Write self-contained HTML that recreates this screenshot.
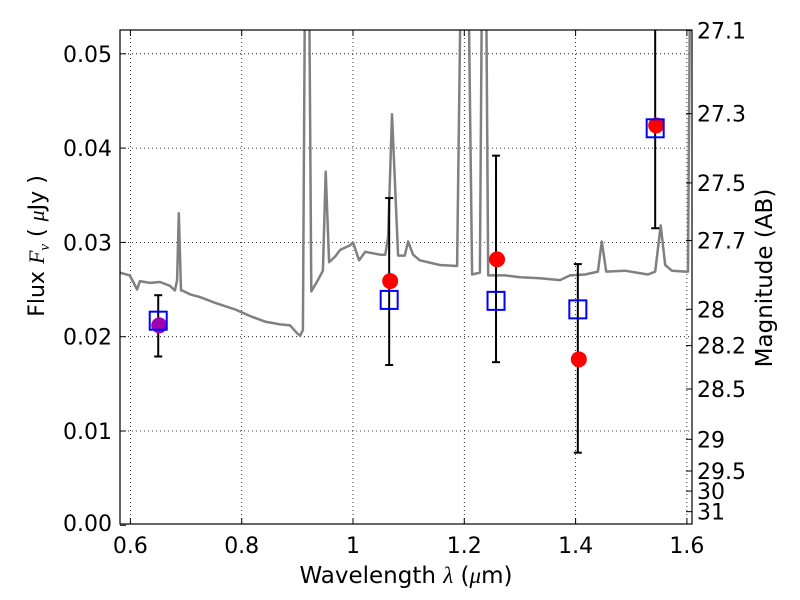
<!DOCTYPE html>
<html><head><meta charset="utf-8"><style>
body{margin:0;background:#fff;}
svg{display:block;font-family:"DejaVu Sans","Liberation Sans",sans-serif;}
</style></head><body>
<svg id="chart" width="800" height="600" xmlns="http://www.w3.org/2000/svg">
<rect x="0" y="0" width="800" height="600" fill="#fff"/>
<g id="grid"></g>
<defs><clipPath id="plotclip"><rect x="120" y="30" width="572" height="494"/></clipPath></defs>
<g id="spec" clip-path="url(#plotclip)"></g>
<g id="marks"></g>
<rect x="120" y="30" width="572" height="494" fill="none" stroke="#000" stroke-width="1.2"/>
<g id="axes"></g>
<text x="406" y="583" font-size="23" text-anchor="middle">Wavelength  <tspan font-family="Liberation Serif" font-style="italic">λ</tspan> (<tspan font-family="Liberation Serif" font-style="italic">μ</tspan>m)</text>
<text transform="translate(44,246) rotate(-90)" font-size="22" text-anchor="middle">Flux  <tspan font-family="Liberation Serif" font-style="italic">F<tspan font-size="15" dy="5">ν</tspan></tspan><tspan dy="-5">  (  </tspan><tspan font-family="Liberation Serif" font-style="italic">μ</tspan>Jy )</text>
<text transform="translate(772,278) rotate(-90)" font-size="23" text-anchor="middle">Magnitude (AB)</text>
</svg>
<script>
const specWave=[0.581,0.599,0.612,0.617,0.635,0.653,0.671,0.680,0.684,0.687,0.691,0.693,0.707,0.725,0.752,0.788,0.815,0.842,0.869,0.887,0.899,0.905,0.910,0.914,0.917,0.921,0.925,0.937,0.946,0.951,0.957,0.968,0.977,0.995,1.000,1.011,1.022,1.049,1.058,1.063,1.070,1.081,1.093,1.099,1.108,1.120,1.156,1.187,1.194,1.198,1.203,1.207,1.214,1.228,1.232,1.235,1.239,1.243,1.273,1.300,1.336,1.372,1.390,1.417,1.440,1.447,1.455,1.489,1.530,1.543,1.553,1.561,1.573,1.597,1.602,1.606];
const specFlux=[0.0268,0.0265,0.0250,0.0259,0.0257,0.0258,0.0254,0.0249,0.0260,0.0331,0.0249,0.0249,0.0245,0.0242,0.0236,0.0229,0.0222,0.0216,0.0213,0.0212,0.0204,0.0201,0.0207,0.0600,0.0600,0.0600,0.0248,0.0260,0.0270,0.0375,0.0279,0.0285,0.0292,0.0297,0.0300,0.0281,0.0290,0.0287,0.0287,0.0306,0.0436,0.0286,0.0286,0.0301,0.0287,0.0281,0.0276,0.0275,0.0600,0.0600,0.0600,0.0600,0.0266,0.0268,0.0600,0.0600,0.0600,0.0265,0.0265,0.0263,0.0262,0.0260,0.0265,0.0266,0.0269,0.0301,0.0269,0.0270,0.0266,0.0269,0.0318,0.0276,0.0270,0.0269,0.0269,0.0600];
const bandWave=[0.650,1.065,1.257,1.404,1.543];
const obsFlux=[0.0212,0.0259,0.0282,0.0176,0.0424];
const modelFlux=[0.0217,0.0239,0.0238,0.0229,0.0421];
const errLow=[0.0179,0.0170,0.0173,0.0077,0.0315];
const errHigh=[0.0244,0.0347,0.0392,0.0277,0.0560];
const obsColors=['#a000b0','#ff0000','#ff0000','#ff0000','#ff0000'];
const xTicks=[0.6,0.8,1.0,1.2,1.4,1.6];
const xTickLabels=['0.6','0.8','1','1.2','1.4','1.6'];
const yTicks=[0,0.01,0.02,0.03,0.04,0.05];
const yTickLabels=['0.00','0.01','0.02','0.03','0.04','0.05'];
const magTicks=[27.1,27.3,27.5,27.7,28,28.2,28.5,29,29.5,30,31];
const magLabels=['27.1','27.3','27.5','27.7','28','28.2','28.5','29','29.5','30','31'];

const NS='http://www.w3.org/2000/svg';
const X=v=>353+(v-1.0)*556.5;
const Y=v=>525.3-v*9430;
const magToFlux=m=>Math.pow(10,(23.9-m)/2.5);
function mk(tag,attrs,parent){const e=document.createElementNS(NS,tag);for(const k in attrs)e.setAttribute(k,attrs[k]);parent.appendChild(e);return e;}
const grid=document.getElementById('grid'),axes=document.getElementById('axes'),spec=document.getElementById('spec'),marks=document.getElementById('marks');

xTicks.forEach((t,i)=>{
  const x=X(t);
  const g=mk('line',{x1:x,x2:x,y1:30,y2:524,stroke:'#000','stroke-width':0.8,'stroke-dasharray':'1,3'},grid);
  
  
  mk('line',{x1:x,x2:x,y1:524,y2:518,stroke:'#000'},axes);
  mk('line',{x1:x,x2:x,y1:30,y2:36,stroke:'#000'},axes);
  const tx=mk('text',{x:x,y:553,'font-size':22,'text-anchor':'middle'},axes);
  tx.textContent=xTickLabels[i];
  
  
});
yTicks.forEach((t,i)=>{
  const y=Y(t);
  if(t>0){const g=mk('line',{x1:120,x2:692,y1:y,y2:y,stroke:'#000','stroke-width':0.8,'stroke-dasharray':'1,3'},grid);
  
  }
  mk('line',{x1:120,x2:126,y1:y,y2:y,stroke:'#000'},axes);
  const tx=mk('text',{x:112,y:Math.min(y,523)+8,'font-size':22,'text-anchor':'end'},axes);
  tx.textContent=yTickLabels[i];
  
  
});
magTicks.forEach((m,i)=>{
  const y=Y(magToFlux(m));
  mk('line',{x1:692,x2:686,y1:y,y2:y,stroke:'#000'},axes);
  const tx=mk('text',{x:697,y:y+8,'font-size':22,'text-anchor':'start'},axes);
  tx.textContent=magLabels[i];
  
  
});

const pts=specWave.map((w,i)=>X(w).toFixed(1)+','+Y(specFlux[i]).toFixed(1)).join(' ');
const pl=mk('polyline',{points:pts,fill:'none',stroke:'#808080','stroke-width':2.5,'stroke-linejoin':'round'},spec);



bandWave.forEach((w,i)=>{
  const x=X(w);
  const yl=Y(errLow[i]),yh=Math.max(Y(errHigh[i]),30);
  const e=mk('line',{x1:x,x2:x,y1:yl,y2:yh,stroke:'#000','stroke-width':2},marks);
  
  
  mk('line',{x1:x-4,x2:x+4,y1:yl,y2:yl,stroke:'#000','stroke-width':2},marks);
  if(Y(errHigh[i])>30) mk('line',{x1:x-4,x2:x+4,y1:yh,y2:yh,stroke:'#000','stroke-width':2},marks);
  const c=mk('circle',{cx:x+1,cy:Y(obsFlux[i]),r:8,fill:obsColors[i]},marks);
  
  
  const ym=Y(modelFlux[i]);
  const s=mk('rect',{x:x-8.5,y:ym-9,width:17,height:18,fill:'none',stroke:'#0000ff','stroke-width':2},marks);
  
  
});
</script>
</body></html>
